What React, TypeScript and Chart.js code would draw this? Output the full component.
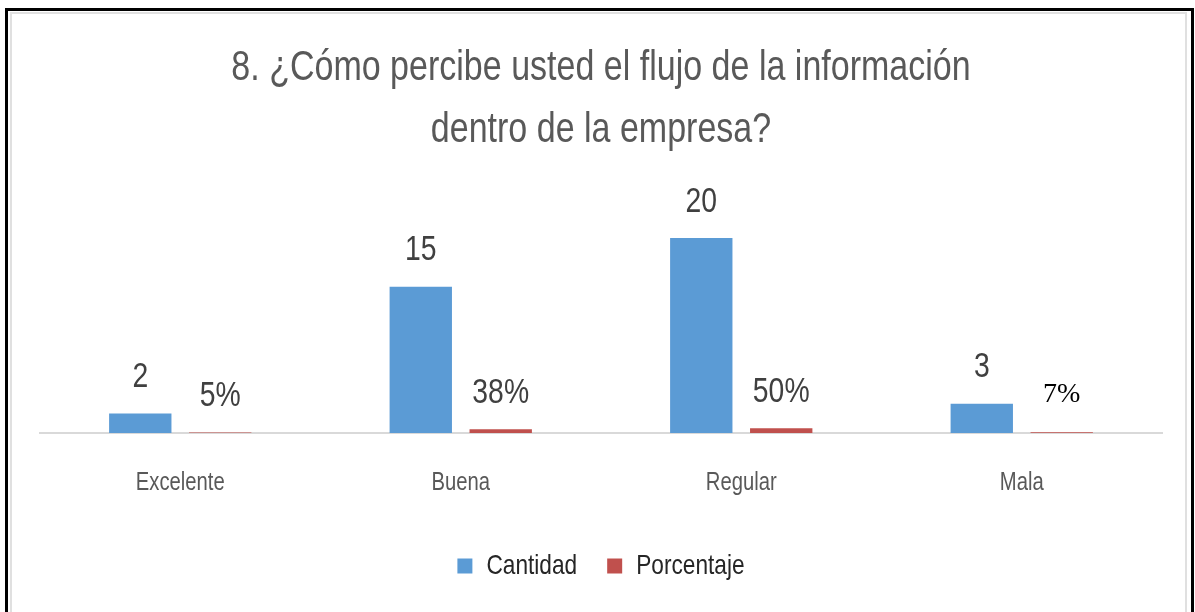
import React, { useEffect, useRef } from "react";
import { Chart, registerables } from "chart.js";

Chart.register(...registerables);

const categories = ["Excelente", "Buena", "Regular", "Mala"];
const cantidad = [2, 15, 20, 3];
const porcentaje = [0.05, 0.38, 0.5, 0.07];
const cantidadLabels = ["2", "15", "20", "3"];
const porcentajeLabels = ["5%", "38%", "50%", "7%"];
const titleLines = ["8. ¿Cómo percibe usted el flujo de la información", "dentro de la empresa?"];

const FONT = "'Liberation Sans', Arial, sans-serif";
const SX = 0.81; // horizontal condensing of the sans text, to mimic a narrow face

const labelPlugin = {
  id: "barLabels",
  afterDatasetsDraw(chart: any) {
    const ctx = chart.ctx;
    const sets = [cantidadLabels, porcentajeLabels];
    sets.forEach((labels, di) => {
      const meta = chart.getDatasetMeta(di);
      meta.data.forEach((bar: any, i: number) => {
        ctx.save();
        const serif = di === 1 && i === 3;
        ctx.font = serif ? "28px 'Liberation Serif', 'Times New Roman', serif" : "35px " + FONT;
        ctx.fillStyle = serif ? "#000000" : "#404040";
        ctx.textAlign = "center";
        ctx.textBaseline = "middle";
        if (serif && ctx._rawFillText) ctx._rawFillText(labels[i], bar.x, bar.y - 38);
        else ctx.fillText(labels[i], bar.x, bar.y - 36);
        ctx.restore();
      });
    });
  },
};

function condense(ctx: any) {
  const rawFill = ctx.fillText.bind(ctx);
  const rawMeasure = ctx.measureText.bind(ctx);
  ctx._rawFillText = rawFill;
  ctx.fillText = (text: string, x: number, y: number, maxWidth?: number) => {
    ctx.save();
    ctx.translate(x, y);
    ctx.scale(SX, 1);
    if (maxWidth !== undefined) rawFill(text, 0, 0, maxWidth / SX);
    else rawFill(text, 0, 0);
    ctx.restore();
  };
  ctx.measureText = (text: string) => {
    const m = rawMeasure(text);
    return {
      width: m.width * SX,
      actualBoundingBoxAscent: m.actualBoundingBoxAscent,
      actualBoundingBoxDescent: m.actualBoundingBoxDescent,
      actualBoundingBoxLeft: m.actualBoundingBoxLeft * SX,
      actualBoundingBoxRight: m.actualBoundingBoxRight * SX,
    };
  };
}

export default function App() {
  const ref = useRef<HTMLCanvasElement | null>(null);
  useEffect(() => {
    document.body.style.margin = "0";
    if (!ref.current) return;
    const ctx = ref.current.getContext("2d");
    condense(ctx);
    const chart = new Chart(ref.current, {
      type: "bar",
      data: {
        labels: categories,
        datasets: [
          { label: "Cantidad", data: cantidad, backgroundColor: "#5B9BD5", categoryPercentage: 0.57, barPercentage: 0.78 },
          { label: "Porcentaje", data: porcentaje, backgroundColor: "#C0504D", categoryPercentage: 0.57, barPercentage: 0.78 },
        ],
      },
      options: {
        responsive: false,
        animation: false,
        layout: { padding: { left: 40, right: 33, top: 0, bottom: 22 } },
        plugins: {
          tooltip: { enabled: false },
          title: {
            display: true,
            text: titleLines,
            color: "#595959",
            font: { family: FONT, size: 42, weight: "normal", lineHeight: 1.48 },
            padding: { top: 37, bottom: 28 },
          },
          legend: {
            position: "bottom",
            labels: {
              color: "#262626",
              font: { family: FONT, size: 28 },
              boxWidth: 15,
              boxHeight: 15,
              padding: 30,
            },
          },
        },
        scales: {
          x: {
            grid: { display: false },
            border: { color: "#d9d9d9", width: 2 },
            ticks: { color: "#595959", font: { family: FONT, size: 25 }, padding: 27 },
            afterFit: (s: any) => { s.height = 89; },
          },
          y: { display: false, min: 0, max: 25 },
        },
      },
      plugins: [labelPlugin],
    });
    return () => chart.destroy();
  }, []);
  return (
    <div style={{ position: "absolute", left: 0, top: 0, width: 1195, height: 612, overflow: "hidden", background: "#fff" }}>
      <canvas ref={ref} width={1195} height={612} style={{ position: "absolute", left: 0, top: 0 }} />
      <div style={{ position: "absolute", left: 5, top: 8, width: 1183, height: 700, border: "3px solid #000", pointerEvents: "none" }} />
      <div style={{ position: "absolute", left: 10, top: 12, width: 1173, height: 700, border: "2px solid #e0e0e0", pointerEvents: "none" }} />
    </div>
  );
}
